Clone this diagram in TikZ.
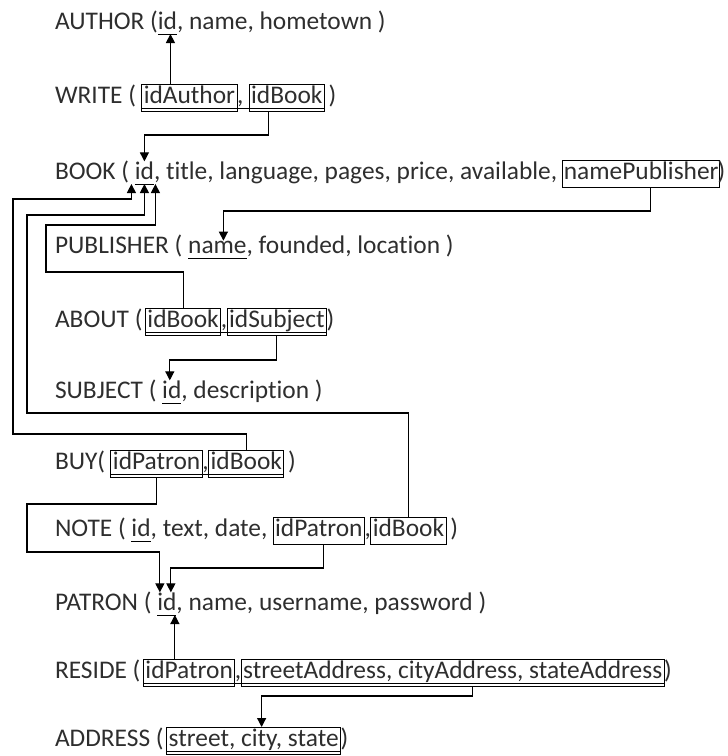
\documentclass[tikz,border=0pt]{standalone}
\usepackage{fontspec}
\setmainfont{Carlito}[Ligatures=NoCommon]
\usetikzlibrary{positioning, calc, arrows.meta}
\definecolor{ink}{HTML}{2E2E2E}
\newcommand\fsp{\ \kern0pt}

\begin{document}
\begin{tikzpicture}[x=1pt, y=1pt, >={Triangle[length=9pt,width=9pt]}, line width=1.2pt,
  word/.style={inner sep=0pt, outer sep=0pt, anchor=base west, text=ink, font=\fontsize{25.4}{30}\selectfont},
  key/.style={word, text depth=5pt},
  fkey/.style={word, draw=black, line width=1pt, inner xsep=2pt, text height=19pt, text depth=8pt},
  uline/.style={draw=black, line width=0.9pt},
  link/.style={draw=black, ->}]
  \useasboundingbox (0,0) rectangle (728,-756);

  \coordinate (railA) at (13,-199);
  \coordinate (railB) at (27,-215);
  \coordinate (railC) at (46,-225);
  \coordinate (railD) at (27,-552);

  \node[word] (au1) at (55,-29) {AUTHOR (};
  \node[key] (auId) at (au1.base east) {id};
  \node[word] (au2) at (auId.base east) {, name, hometown )};

  \node[word] (wr1) at (55,-103) {WRITE (\fsp};
  \node[fkey] (wrAuth) at (wr1.base east) {idAuthor};
  \node[word] (wr2) at (wrAuth.base east) {,\fsp};
  \node[fkey] (wrBook) at (wr2.base east) {idBook};
  \node[word] (wr3) at (wrBook.base east) {\,)};

  \node[word] (bk1) at (55,-179) {BOOK (\fsp};
  \node[key] (bkId) at (bk1.base east) {id};
  \node[word] (bk2) at (bkId.base east) {, title, language, pages, price, available,\fsp};
  \node[fkey, inner xsep=1pt] (bkPub) at (bk2.base east) {namePublisher};
  \node[word] (bk3) at ([xshift=-2pt]bkPub.base east) {)};

  \node[word] (pu1) at (55,-253) {PUBLISHER (\fsp};
  \node[key] (puName) at (pu1.base east) {name};
  \node[word] (pu2) at (puName.base east) {, founded, location )};

  \node[word] (ab1) at (55,-327) {ABOUT (};
  \node[fkey] (abBook) at ([xshift=3pt]ab1.base east) {idBook};
  \node[word] (ab2) at (abBook.base east) {,};
  \node[fkey] (abSubj) at (ab2.base east) {idSubject};
  \node[word] (ab3) at (abSubj.base east) {)};

  \node[word] (su1) at (55,-398) {SUBJECT (\fsp};
  \node[key] (suId) at (su1.base east) {id};
  \node[word] (su2) at (suId.base east) {, description )};

  \node[word] (by1) at (55,-469) {BUY(\fsp};
  \node[fkey] (byPat) at (by1.base east) {idPatron};
  \node[word] (by2) at (byPat.base east) {,};
  \node[fkey] (byBook) at (by2.base east) {idBook};
  \node[word] (by3) at (byBook.base east) {\,)};

  \node[word] (nt1) at (55,-536) {NOTE (\fsp};
  \node[key] (ntId) at (nt1.base east) {id};
  \node[word] (nt2) at (ntId.base east) {, text, date,\fsp};
  \node[fkey] (ntPat) at (nt2.base east) {idPatron};
  \node[word] (nt3) at (ntPat.base east) {,};
  \node[fkey] (ntBook) at (nt3.base east) {idBook};
  \node[word] (nt4) at (ntBook.base east) {\,)};

  \node[word] (pt1) at (55,-610) {PATRON (\fsp};
  \node[key] (ptId) at (pt1.base east) {id};
  \node[word] (pt2) at (ptId.base east) {, name, username, password )};

  \node[word] (rs1) at (55,-678) {RESIDE (};
  \node[fkey] (rsPat) at ([xshift=3pt]rs1.base east) {idPatron};
  \node[word] (rs2) at (rsPat.base east) {,};
  \node[fkey] (rsAddr) at (rs2.base east) {streetAddress, cityAddress, stateAddress};
  \node[word] (rs3) at (rsAddr.base east) {)};

  \node[word] (ad1) at (55,-746) {ADDRESS (};
  \node[fkey] (adAddr) at ([xshift=3pt]ad1.base east) {street, city, state};
  \node[word] (ad2) at (adAddr.base east) {)};

  \draw[uline] (auId.south west) -- (auId.south east);
  \draw[uline] ([yshift=-5pt]wrAuth.base west) -- ([yshift=-5pt]wrBook.base east);
  \draw[uline] (bkId.south west) -- (bkId.south east);
  \draw[uline] (puName.south west) -- (puName.south east);
  \draw[uline] ([yshift=-5pt]abBook.base west) -- ([yshift=-5pt]abSubj.base east);
  \draw[uline] (suId.south west) -- (suId.south east);
  \draw[uline] ([yshift=-5pt]byPat.base west) -- ([yshift=-5pt]byBook.base east);
  \draw[uline] (ntId.south west) -- (ntId.south east);
  \draw[uline] (ptId.south west) -- (ptId.south east);
  \draw[uline] ([yshift=-5pt]rsPat.base west) -- ([yshift=-5pt]rsAddr.base east);
  \draw[uline] ([yshift=-5pt]adAddr.base west) -- ([yshift=-5pt]adAddr.base east);

  \draw[link] ([xshift=3pt]auId.south |- wrAuth.north) -- ([xshift=3pt]auId.south);
  \draw[link] ([xshift=-18pt]wrBook.south) -- ++(0,-24) -| (bkId.north);
  \draw[link] ([xshift=9pt]bkPub.south) -- ++(0,-24) -| ([xshift=6pt]puName.north);
  \draw[link] (byBook.north) -- ++(0,16) -| (railA) -| ([xshift=-13pt]bkId.south);
  \draw[link] (ntBook.north) -- ++(0,104) -| (railB) -| (bkId.south);
  \draw[link] (abBook.north) -- ++(0,36) -| (railC) -| ([xshift=11pt]bkId.south);
  \draw[link] (abSubj.south) -- ++(0,-25) -| ([xshift=-2pt]suId.north);
  \draw[link] (byPat.south) -- ++(0,-27) -| (railD) -| ([xshift=-7pt]ptId.north);
  \draw[link] ([xshift=5pt]ntPat.south) -- ++(0,-24) -| ([xshift=4pt]ptId.north);
  \draw[link] ([xshift=8pt]ptId.south |- rsPat.north) -- ([xshift=8pt]ptId.south);
  \draw[link] ([xshift=20pt]rsAddr.south) -- ++(0,-10) -| ([xshift=8pt]adAddr.north);
\end{tikzpicture}
\end{document}
